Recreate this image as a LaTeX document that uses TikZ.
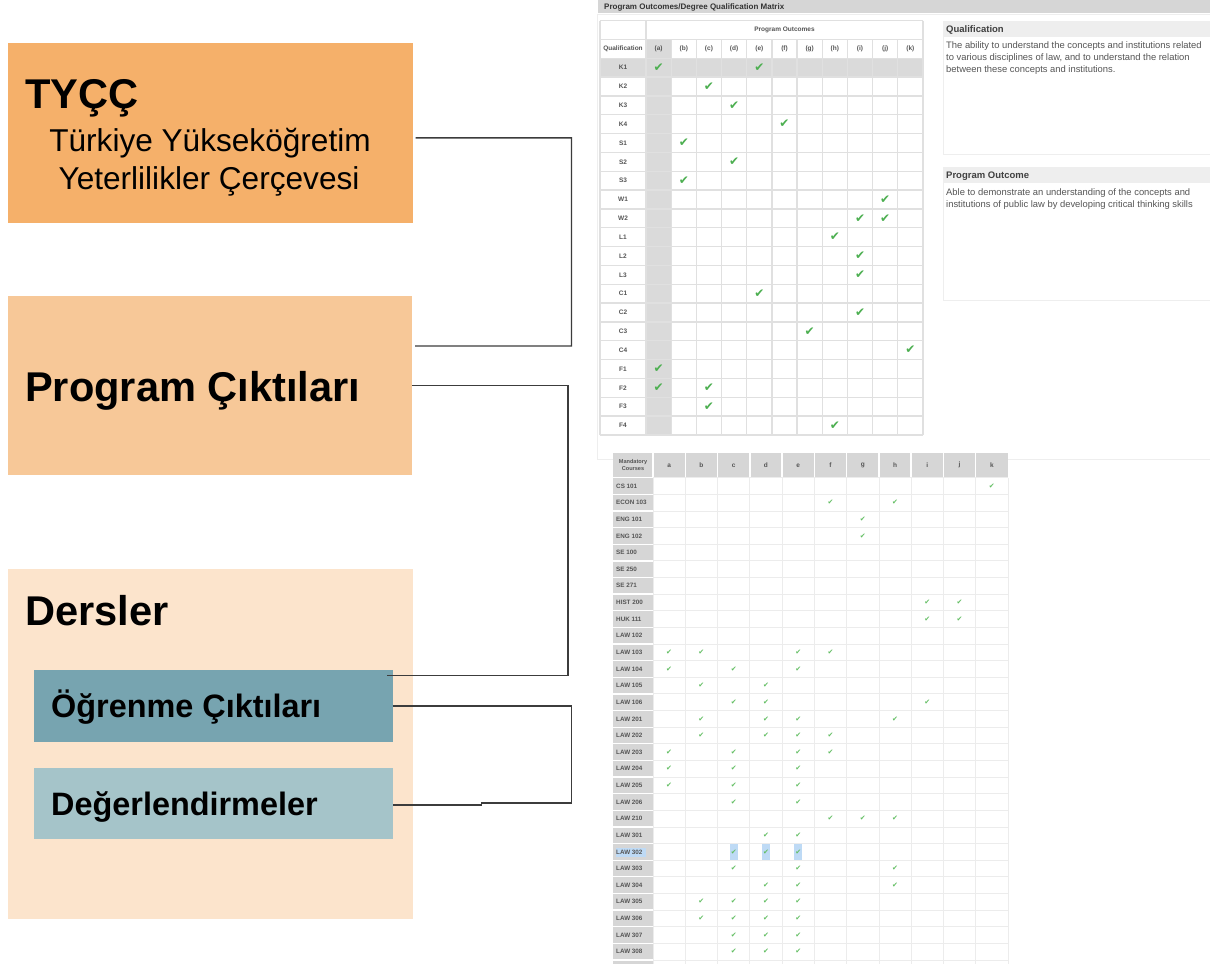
\documentclass[tikz,border=0pt]{standalone}
\usepackage{fontspec}
\setmainfont{Liberation Sans}
\newfontfamily\dejavu{DejaVu Sans}
\definecolor{cTycc}{RGB}{245,176,106}
\definecolor{cProg}{RGB}{247,200,152}
\definecolor{cDers}{RGB}{252,228,204}
\definecolor{cOgr}{RGB}{119,164,176}
\definecolor{cDeg}{RGB}{165,196,201}
\definecolor{cConn}{RGB}{60,60,60}
\definecolor{cGrid}{RGB}{224,224,224}
\definecolor{cGridL}{RGB}{236,236,236}
\definecolor{cShade}{RGB}{218,218,218}
\definecolor{cBar}{RGB}{214,214,214}
\definecolor{cPanel}{RGB}{238,238,238}
\definecolor{cTxt}{RGB}{85,85,85}
\definecolor{cChk}{RGB}{76,175,80}
\definecolor{cChkS}{RGB}{98,190,98}
\definecolor{cHl}{RGB}{190,218,245}
\begin{document}
\begin{tikzpicture}[x=1pt,y=-1pt,
  box/.style={inner sep=0pt, outer sep=0pt, draw=none, anchor=north west},
  title/.style={inner sep=0pt, anchor=base west, font=\bfseries\fontsize{41.6}{43}\selectfont},
  sub/.style={inner sep=0pt, anchor=base, font=\fontsize{31.6}{34}\selectfont},
  inner/.style={inner sep=0pt, anchor=base west, font=\bfseries\fontsize{32.4}{34}\selectfont},
  conn/.style={draw=cConn, line width=1.4pt},
  tchk/.style={inner sep=0pt, text=cChk, font=\dejavu\fontsize{12}{12}\selectfont},
  bchk/.style={inner sep=0pt, text=cChkS, font=\dejavu\fontsize{7}{7}\selectfont},
  tlab/.style={inner sep=0pt, text=cTxt, font=\bfseries\fontsize{6.5}{7}\selectfont},
  blab/.style={inner sep=0pt, anchor=west, text=cTxt, font=\bfseries\fontsize{6.3}{7}\selectfont},
  ptxt/.style={inner sep=0pt, anchor=base west, text=cTxt, font=\fontsize{9.4}{12}\selectfont},
  phead/.style={inner sep=0pt, anchor=base west, text=black!75, font=\bfseries\fontsize{9.5}{12}\selectfont},
  tgrid/.style={draw=cGrid, line width=1.3pt},
  bgrid/.style={draw=cGridL, line width=0.8pt},
]
\useasboundingbox (0,0) rectangle (1210,964);
\clip (0,0) rectangle (1210,964);
\fill[white] (0,0) rectangle (1210,964);

% ---------------- left boxes ----------------
\node[box, fill=cTycc, minimum width=404.7pt, minimum height=180.3pt] (tycc) at (8,42.7) {};
\node[box, fill=cProg, minimum width=404pt, minimum height=179.5pt] (prog) at (8,295.7) {};
\node[box, fill=cDers, minimum width=404.7pt, minimum height=350pt] (ders) at (8,569) {};
\node[box, fill=cOgr, minimum width=358.7pt, minimum height=71.7pt] (ogr) at (34,670) {};
\node[box, fill=cDeg, minimum width=358.7pt, minimum height=71pt] (deg) at (34,768.3) {};

\node[title] (tyccT) at (25,108) {TYÇÇ};
\node[sub] (tyccS1) at (210,151.7) {Türkiye Yükseköğretim};
\node[sub] (tyccS2) at (209,189) {Yeterlilikler Çerçevesi};
\node[title] (progT) at (25,401) {Program Çıktıları};
\node[title] (dersT) at (25,625) {Dersler};
\node[inner] (ogrT) at (51,717) {Öğrenme Çıktıları};
\node[inner] (degT) at (51,815) {Değerlendirmeler};

% ---------------- connectors ----------------
\draw[conn] ([shift={(3,5)}]tycc.east) -- (571.5,137.85) -- (571.5,346) -- ([shift={(3,-39.5)}]prog.east);
\draw[conn] (prog.east) -| (568,675.5) -- ([shift={(-6,5.5)}]ogr.north east);
\draw[conn] (ogr.east) -| (571.7,803) -- (481.7,803) -- (481.7,805) -- ([shift={(0,1.2)}]deg.east);

% ---------------- top screenshot ----------------
\draw[draw=cPanel, line width=1pt] (597.5,14) rectangle (1215,459);
\fill[cBar] (598,0) rectangle (1215,13);
\node[inner sep=0pt, anchor=base west, text=black!80, font=\bfseries\fontsize{8}{9}\selectfont] (barT) at (604,9) {Program Outcomes/Degree Qualification Matrix};

% table shading
\fill[white] (600,20.7) rectangle (923,435);
\fill[cShade] (646,39.3) rectangle (671.18,435);
\fill[cShade] (600,58.3) rectangle (923,77.13);
% grid
\foreach \i in {0,...,20} \draw[tgrid] (600,{58.3+\i*18.83}) -- (923,{58.3+\i*18.83});
\draw[tgrid] (600,20.7) -- (923,20.7);
\draw[tgrid] (600,39.3) -- (923,39.3);
\draw[tgrid] (600,20.7) -- (600,435);
\draw[tgrid] (646,20.7) -- (646,435);
\draw[tgrid] (923,20.7) -- (923,435);
\foreach \i in {1,...,10} \draw[tgrid] ({646+\i*25.18},39.3) -- ({646+\i*25.18},435);

\node[tlab] (poHead) at (784.5,30) {Program Outcomes};
\node[tlab] (qualHead) at (623,48.8) {Qualification};
\foreach \l [count=\c] in {(a),(b),(c),(d),(e),(f),(g),(h),(i),(j),(k)}
  \node[tlab] (tc\c) at ({646+(\c-0.5)*25.18},48.8) {\l};
\foreach \l [count=\r] in {K1,K2,K3,K4,S1,S2,S3,W1,W2,L1,L2,L3,C1,C2,C3,C4,F1,F2,F3,F4}
  \node[tlab] (tr\r) at (623,{58.3+(\r-0.5)*18.83}) {\l};
\foreach \c/\r in {1/1,5/1,3/2,4/3,6/4,2/5,4/6,2/7,10/8,9/9,10/9,8/10,9/11,9/12,5/13,9/14,7/15,11/16,1/17,1/18,3/18,3/19,8/20}
  \node[tchk] (tk\c-\r) at ({646+(\c-0.5)*25.18},{58.3+(\r-0.5)*18.83}) {✔};

% right panels
\draw[draw=cPanel, line width=1pt] (943,21) rectangle (1215,154);
\fill[cPanel] (943,21) rectangle (1215,37);
\node[phead] (qpH) at (946,32.5) {Qualification};
\node[ptxt] (qp1) at (946,48) {The ability to understand the concepts and institutions related};
\node[ptxt] (qp2) at (946,60.3) {to various disciplines of law, and to understand the relation};
\node[ptxt] (qp3) at (946,72) {between these concepts and institutions.};

\draw[draw=cPanel, line width=1pt] (943,167) rectangle (1215,300);
\fill[cPanel] (943,167) rectangle (1215,183);
\node[phead] (ppH) at (946,178.5) {Program Outcome};
\node[ptxt] (pp1) at (946,195.7) {Able to demonstrate an understanding of the concepts and};
\node[ptxt] (pp2) at (946,207) {institutions of public law by developing critical thinking skills};

% ---------------- bottom matrix ----------------
\fill[white] (613,453) rectangle (1008,964);
\fill[cBar] (613,453) rectangle (1008,477.7);
\fill[cBar] (613,477.7) rectangle (653,964);
\foreach \i in {1,...,11} \draw[white, line width=1.5pt] ({653+(\i-1)*32.27},453) -- ({653+(\i-1)*32.27},477.7);
\foreach \i in {0,...,29} {
  \draw[bgrid] (653,{477.7+\i*16.63}) -- (1008,{477.7+\i*16.63});
  \draw[white, line width=1.3pt] (613,{477.7+\i*16.63}) -- (653,{477.7+\i*16.63});
}
\foreach \i in {1,...,11} \draw[bgrid] ({653+\i*32.27},477.7) -- ({653+\i*32.27},964);
\draw[bgrid] (653,477.7) -- (653,964);

\node[inner sep=0pt, align=center, text=cTxt, font=\bfseries\fontsize{5.6}{7}\selectfont] (mcHead) at (633,465.3) {Mandatory\\Courses};
\foreach \l [count=\c] in {a,b,c,d,e,f,g,h,i,j,k}
  \node[tlab] (bc\c) at ({653+(\c-0.5)*32.27},465.3) {\l};

% highlight for LAW 302
\fill[cHl] (615.5,847.5) rectangle (646,857);
\foreach \c in {3,4,5} \fill[cHl] ({653+(\c-0.5)*32.27-4},843.5) rectangle ({653+(\c-0.5)*32.27+4},859.5);

\foreach \l [count=\r] in {CS 101,ECON 103,ENG 101,ENG 102,SE 100,SE 250,SE 271,HIST 200,HUK 111,LAW 102,LAW 103,LAW 104,LAW 105,LAW 106,LAW 201,LAW 202,LAW 203,LAW 204,LAW 205,LAW 206,LAW 210,LAW 301,LAW 302,LAW 303,LAW 304,LAW 305,LAW 306,LAW 307,LAW 308}
  \node[blab] (br\r) at (616,{477.7+(\r-0.5)*16.63}) {\l};

\foreach \c/\r in {11/1,6/2,8/2,7/3,7/4,9/8,10/8,9/9,10/9,1/11,2/11,5/11,6/11,1/12,3/12,5/12,2/13,4/13,3/14,4/14,9/14,2/15,4/15,5/15,8/15,2/16,4/16,5/16,6/16,1/17,3/17,5/17,6/17,1/18,3/18,5/18,1/19,3/19,5/19,3/20,5/20,6/21,7/21,8/21,4/22,5/22,3/23,4/23,5/23,3/24,5/24,8/24,4/25,5/25,8/25,2/26,3/26,4/26,5/26,2/27,3/27,4/27,5/27,3/28,4/28,5/28,3/29,4/29,5/29}
  \node[bchk] (bk\c-\r) at ({653+(\c-0.5)*32.27},{477.7+(\r-0.5)*16.63}) {✔};
\end{tikzpicture}
\end{document}
